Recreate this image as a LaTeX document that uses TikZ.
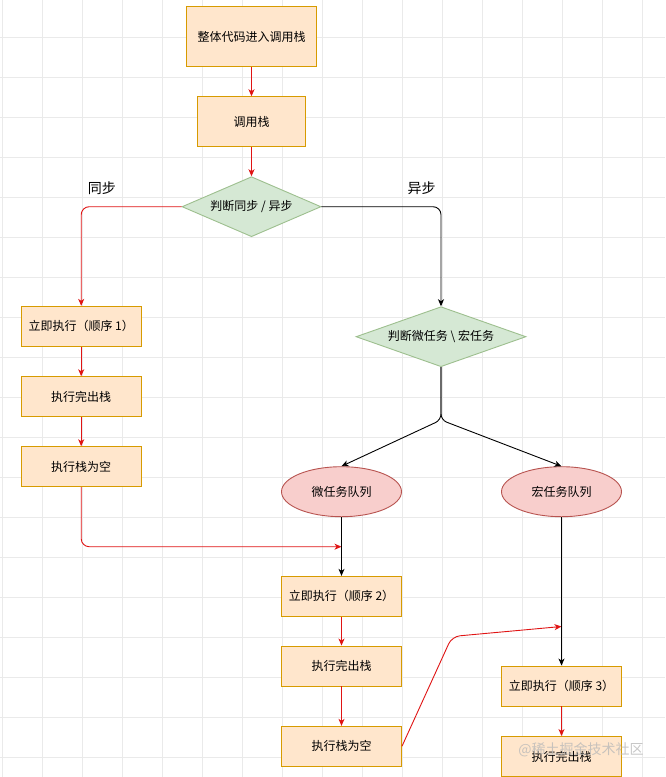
\documentclass[tikz,border=0pt]{standalone}
\usepackage{fontspec}
\setmainfont{Noto Sans CJK SC}
\usetikzlibrary{arrows.meta,shapes.geometric}

\definecolor{boxfill}{HTML}{FFE6CC}
\definecolor{boxline}{HTML}{D79B00}
\definecolor{decfill}{HTML}{D5E8D4}
\definecolor{decline}{HTML}{9DBF8E}
\definecolor{qfill}{HTML}{F8CECC}
\definecolor{qline}{HTML}{B85450}
\definecolor{flowred}{HTML}{E01414}
\definecolor{gridgray}{HTML}{EAEAEA}

\tikzset{
  stepbox/.style={draw=boxline,fill=boxfill,line width=.9pt,inner sep=0pt,
    minimum width=120pt,minimum height=40pt,font=\fontsize{12}{14}\selectfont},
  decision/.style={diamond,draw=decline,fill=decfill,line width=.9pt,inner sep=0pt,
    minimum height=60pt,font=\fontsize{12}{14}\selectfont},
  queue/.style={ellipse,draw=qline,fill=qfill,line width=.9pt,inner sep=0pt,
    minimum width=120pt,minimum height=50pt,font=\fontsize{12}{14}\selectfont},
  redflow/.style={->,draw=flowred,line width=.9pt},
  blackflow/.style={->,draw=black,line width=.9pt},
  gridline/.style={draw=gridgray,line width=.7pt}
}

\begin{document}
\begin{tikzpicture}[x=1pt,y=-1pt,>={Stealth[length=7pt,width=6pt,inset=2pt]}]
\useasboundingbox[fill=white] (0,0) rectangle (665,777);
% background grid
\foreach \gx in {2,42,...,662} \draw[gridline] (\gx,0) -- (\gx,777);
\foreach \gy in {37,77,...,757} \draw[gridline] (0,\gy) -- (665,\gy);

% main column
\node[stepbox,minimum width=130pt,minimum height=60pt] (whole) at (251.5,36.5) {整体代码进入调用栈};
\node[stepbox,minimum width=108pt,minimum height=50pt] (callstack) at (251.5,121.7) {调用栈};
\node[decision,minimum width=139pt,aspect=2.3] (syncq) at (251.5,206.7) {判断同步 / 异步};
\node[font=\fontsize{14}{16}\selectfont] (synclbl) at (101.8,188) {同步};
\node[font=\fontsize{14}{16}\selectfont] (asynclbl) at (421.5,188) {异步};

% sync branch
\node[stepbox] (runA) at (81.2,326.3) {立即执行（顺序 1）};
\node[stepbox] (popA) at (81.2,396.7) {执行完出栈};
\node[stepbox] (emptyA) at (81.2,466.7) {执行栈为空};

% async branch
\node[decision,minimum width=170pt,aspect=2.8] (taskq) at (441,336.7) {判断微任务 \textbackslash{} 宏任务};
\coordinate (split) at (441,420);
\node[queue] (microq) at (341.5,491.7) {微任务队列};
\node[queue] (macroq) at (561.5,491.7) {宏任务队列};
\coordinate (joinA) at (341.5,546.7);
\node[stepbox] (runB) at (341.5,596.3) {立即执行（顺序 2）};
\node[stepbox] (popB) at (341.5,666) {执行完出栈};
\node[stepbox] (emptyB) at (341.5,746.3) {执行栈为空};
\coordinate (bendB) at (452,636.5);
\coordinate (joinB) at (561.5,626.5);
\node[stepbox] (runC) at (561.5,686) {立即执行（顺序 3）};
\node[stepbox] (popC) at (561.5,756.5) {执行完出栈};

% connectors
\draw[redflow] (whole) -- (callstack);
\draw[redflow] (callstack) -- (syncq);
\draw[redflow,rounded corners=8pt] (syncq.west) -| (runA.north);
\draw[blackflow,rounded corners=8pt] (syncq.east) -| (taskq.north);
\draw[redflow] (runA) -- (popA);
\draw[redflow] (popA) -- (emptyA);
\draw[redflow,rounded corners=8pt] (emptyA.south) |- (joinA);
\draw[blackflow,rounded corners=6pt] (taskq.south) -- (split) -- (microq.north);
\draw[blackflow,rounded corners=6pt] (taskq.south) -- (split) -- (macroq.north);
\draw[blackflow] (microq) -- (runB);
\draw[redflow] (runB) -- (popB);
\draw[redflow] (popB) -- (emptyB);
\draw[redflow,rounded corners=8pt] (emptyB.east) -- (bendB) -- (joinB);
\draw[blackflow] (macroq) -- (runC);
\draw[redflow] (runC) -- (popC);

\node[text=gray!55,opacity=.8,font=\fontsize{14}{16}\selectfont] (mark) at (581,749.5) {@稀土掘金技术社区};
\end{tikzpicture}
\end{document}
